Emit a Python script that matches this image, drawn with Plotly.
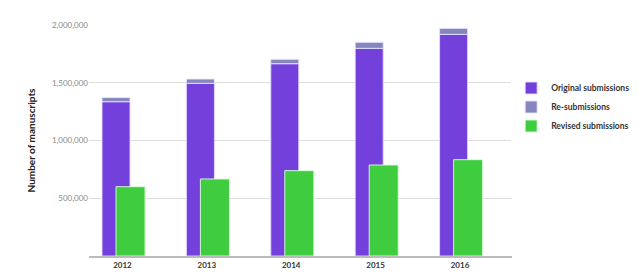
import plotly.graph_objects as go

years = ["2012", "2013", "2014", "2015", "2016"]
original = [1336000, 1495000, 1665000, 1798000, 1919000]
resubmissions = [35000, 37000, 38000, 52000, 52000]
revised = [600000, 667000, 739000, 788000, 834000]

y_ticks = [500000, 1000000, 1500000, 2000000]
y_tick_text = ["500,000", "1,000,000", "1,500,000", "2,000,000"]

FONT = "Lato"

fig = go.Figure()
fig.add_trace(go.Bar(
    x=years, y=original, name="Original submissions",
    width=0.332, offset=-0.242,
    marker=dict(color="#7440dc", line=dict(color="rgba(230,220,255,0.9)", width=1)),
))
fig.add_trace(go.Bar(
    x=years, y=resubmissions, base=original, name="Re-submissions",
    width=0.332, offset=-0.242,
    marker=dict(color="#8585c0", line=dict(color="rgba(230,230,250,0.9)", width=1)),
))
fig.add_trace(go.Bar(
    x=years, y=revised, name="Revised submissions",
    width=0.344, offset=-0.076,
    marker=dict(color="#3fcd3f", line=dict(color="rgba(220,255,220,0.9)", width=1)),
))

fig.update_layout(
    width=640, height=277,
    margin=dict(l=89, r=128, t=25, b=21, autoexpand=False),
    barmode="overlay",
    plot_bgcolor="white", paper_bgcolor="white",
    font=dict(family=FONT, color="#333"),
    showlegend=True,
    legend=dict(
        x=0.998, y=0.79, xanchor="left", yanchor="top",
        font=dict(family=FONT, size=8.5, color="#333", weight="bold"),
        itemwidth=30, tracegroupgap=0,
    ),
    xaxis=dict(
        type="category",
        range=[-0.396, 4.616],
        showgrid=False, automargin=False,
        showline=True, linecolor="#bbbbbb", linewidth=2,
        ticks="",
        tickfont=dict(family=FONT, size=8, color="#333", weight="bold"),
    ),
    yaxis=dict(
        range=[0, 2000000], automargin=False,
        tickvals=y_ticks, ticktext=y_tick_text,
        showgrid=True, gridcolor="#dddddd", gridwidth=1,
        zeroline=False, showline=False, ticks="",
        tickfont=dict(family=FONT, size=8, color="#888"),
        title=dict(text="Number of manuscripts",
                   font=dict(family=FONT, size=10, color="#222", weight="bold"),
                   standoff=14),
    ),
)

fig.write_html("out.html")
